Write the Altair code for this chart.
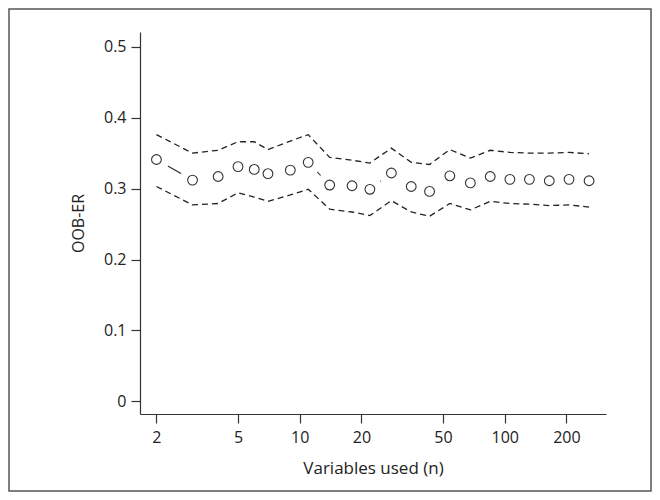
import altair as alt
import pandas as pd

n_vals = [2, 3, 4, 5, 6, 7, 9, 11, 14, 18, 22, 28, 35, 43, 54, 68, 85, 106, 132, 165, 206, 258]
oob_err = [0.341, 0.312, 0.317, 0.331, 0.327, 0.321, 0.326, 0.337, 0.305, 0.304, 0.299,
           0.322, 0.303, 0.296, 0.318, 0.308, 0.317, 0.313, 0.313, 0.311, 0.313, 0.311]
upper = [0.376, 0.350, 0.354, 0.366, 0.366, 0.355, 0.367, 0.376, 0.344, 0.340, 0.336,
         0.357, 0.337, 0.334, 0.355, 0.343, 0.354, 0.351, 0.350, 0.350, 0.351, 0.349]
lower = [0.303, 0.277, 0.279, 0.294, 0.288, 0.282, 0.291, 0.299, 0.271, 0.267, 0.262,
         0.283, 0.267, 0.261, 0.279, 0.270, 0.282, 0.279, 0.278, 0.276, 0.277, 0.274]
x_ticks = [2, 5, 10, 20, 50, 100, 200]
y_ticks = [0, 0.1, 0.2, 0.3, 0.4, 0.5]

df = pd.DataFrame({"n": n_vals, "err": oob_err, "upper": upper, "lower": lower})

xscale = alt.Scale(type="log", domain=[1.663, 312], nice=False)
yscale = alt.Scale(domain=[-0.0177, 0.5207], nice=False, zero=False)

xax = alt.Axis(values=x_ticks, format="~g", title="Variables used (n)",
               labelPadding=6, titlePadding=15, titleFontSize=17)
yax = alt.Axis(values=y_ticks, format="~g", title="OOB-ER",
               labelPadding=5, titlePadding=17)


def X():
    return alt.X("n:Q", scale=xscale, axis=xax, title="Variables used (n)")


def Y(field):
    return alt.Y(f"{field}:Q", scale=yscale, axis=yax, title="OOB-ER")


base = alt.Chart(df)

conn = base.mark_line(color="#333333", strokeWidth=1.1).encode(x=X(), y=Y("err"))
mask = base.mark_circle(color="white", size=700, opacity=1).encode(x=X(), y=Y("err"))
pts = base.mark_point(shape="circle", filled=False, color="#333333", size=95,
                      strokeWidth=1.1, opacity=1).encode(x=X(), y=Y("err"))
up = base.mark_line(color="#222222", strokeWidth=1.3, strokeDash=[6, 4]).encode(
    x=X(), y=Y("upper"))
lo = base.mark_line(color="#222222", strokeWidth=1.3, strokeDash=[6, 4]).encode(
    x=X(), y=Y("lower"))

frame = alt.Chart(pd.DataFrame({"a": [0]})).mark_rect(
    fillOpacity=0, stroke="#555555", strokeWidth=1.5).encode(
    x=alt.value(-131), x2=alt.value(511), y=alt.value(-23), y2=alt.value(459))

chart = alt.layer(conn, mask, pts, up, lo, frame).properties(
    width=466, height=382,
    autosize=alt.AutoSizeParams(type="none"),
    padding={"left": 132, "top": 24, "right": 46, "bottom": 78},
    background="white",
).configure_view(strokeWidth=0).configure_axis(
    grid=False,
    domainColor="#333333", tickColor="#333333", domainWidth=1.2, tickWidth=1.2,
    tickSize=9, labelColor="#222222", titleColor="#222222",
    labelFont="Open Sans", titleFont="Open Sans",
    labelFontSize=16, titleFontSize=16, titleFontWeight="normal",
)

chart.save("out.html", embed_options={"renderer": "svg", "actions": False})
